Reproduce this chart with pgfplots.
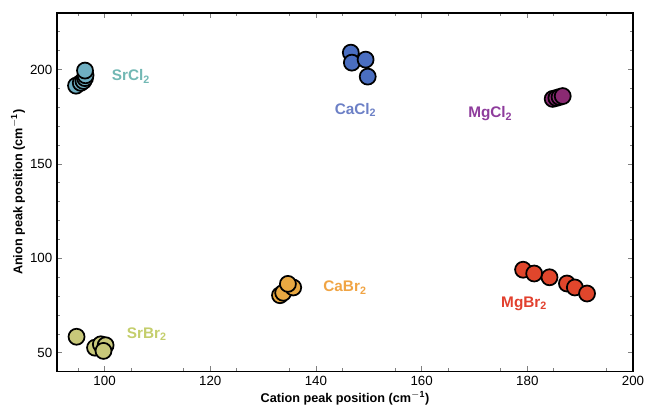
\documentclass[border=0pt]{standalone}
\usepackage{pgfplots}
\pgfplotsset{compat=1.18}
\usepackage{fontspec}
\setmainfont{Liberation Sans}
\definecolor{srcl}{HTML}{6FAFC2}
\definecolor{cacl}{HTML}{4A6EC0}
\definecolor{mgcl}{HTML}{8A2A72}
\definecolor{srbr}{HTML}{C8C87A}
\definecolor{cabr}{HTML}{E8A842}
\definecolor{mgbr}{HTML}{E0462C}
\definecolor{lsrcl}{HTML}{72B8B4}
\definecolor{lcacl}{HTML}{6C80C6}
\definecolor{lmgcl}{HTML}{8E3C9C}
\definecolor{lsrbr}{HTML}{C4CE6C}
\definecolor{lcabr}{HTML}{F0A444}
\definecolor{lmgbr}{HTML}{E2402E}
\begin{document}
\begin{tikzpicture}
\begin{axis}[name=ax,
  scale only axis, width=432pt, height=269pt,
  xmin=91, xmax=200, ymin=40, ymax=230,
  xtick={100,120,...,200}, ytick={50,100,150,200},
  minor xtick={95,105,...,195}, minor ytick={60,70,80,90,110,120,130,140,160,170,180,190,210,220},
  tick align=inside, major tick length=4pt, minor tick length=2.5pt,
  axis line style={line width=1pt}, tick style={line width=0.6pt},
  /pgf/number format/assume math mode=true,
  ticklabel style={font=\fontsize{10}{12}\selectfont},
  xlabel={\textbf{Cation peak position (cm$^{\mathbf{-1}}$)}},
  ylabel={\textbf{Anion peak position (cm$^{\mathbf{-1}}$)}},
  label style={font=\fontsize{9.5}{11}\selectfont},
  xlabel style={yshift=3pt}, ylabel style={yshift=-3pt},
  clip=false,
]
\pgfplotsset{pts/.style={only marks, mark=*, mark size=6pt, mark options={draw=black, line width=1.3pt, fill=#1}}}
\addplot[pts=srcl] coordinates {(94.6,191.5) (95.5,193) (96,194) (96.3,195.5) (96.4,197) (96.3,199.5)};
\addplot[pts=cacl] coordinates {(146.6,209) (146.8,203.7) (149.4,205.3) (149.8,196.3)};
\addplot[pts=mgcl] coordinates {(184.8,184.5) (185.5,185) (186.1,185.5) (186.7,186)};
\addplot[pts=srbr] coordinates {(94.7,58.5) (98.2,52.7) (99.3,54.5) (100.2,54) (99.8,51)};
\addplot[pts=cabr] coordinates {(133.2,80.5) (133.8,81.8) (135.7,84.6) (134.7,86.5)};
\addplot[pts=mgbr] coordinates {(179.2,94) (181.3,92) (184.2,90) (187.5,86.7) (189,84.6) (191.3,81.4)};
\tikzset{lab/.style={text=#1, font=\bfseries\fontsize{11.5}{13}\selectfont}}
\node[lab=lsrcl] at (axis cs:105,196.3) {SrCl$_{\mathbf{2}}$};
\node[lab=lcacl] at (axis cs:147.5,178.7) {CaCl$_{\mathbf{2}}$};
\node[lab=lmgcl] at (axis cs:173,176.6) {MgCl$_{\mathbf{2}}$};
\node[lab=lsrbr] at (axis cs:108,60) {SrBr$_{\mathbf{2}}$};
\node[lab=lcabr] at (axis cs:145.5,84.6) {CaBr$_{\mathbf{2}}$};
\node[lab=lmgbr] at (axis cs:179.4,76) {MgBr$_{\mathbf{2}}$};
\end{axis}
\pgfresetboundingbox
\path ([xshift=-42.75pt,yshift=-31.5pt]ax.south west) rectangle ([xshift=10.5pt,yshift=9.75pt]ax.north east);
\end{tikzpicture}
\end{document}
